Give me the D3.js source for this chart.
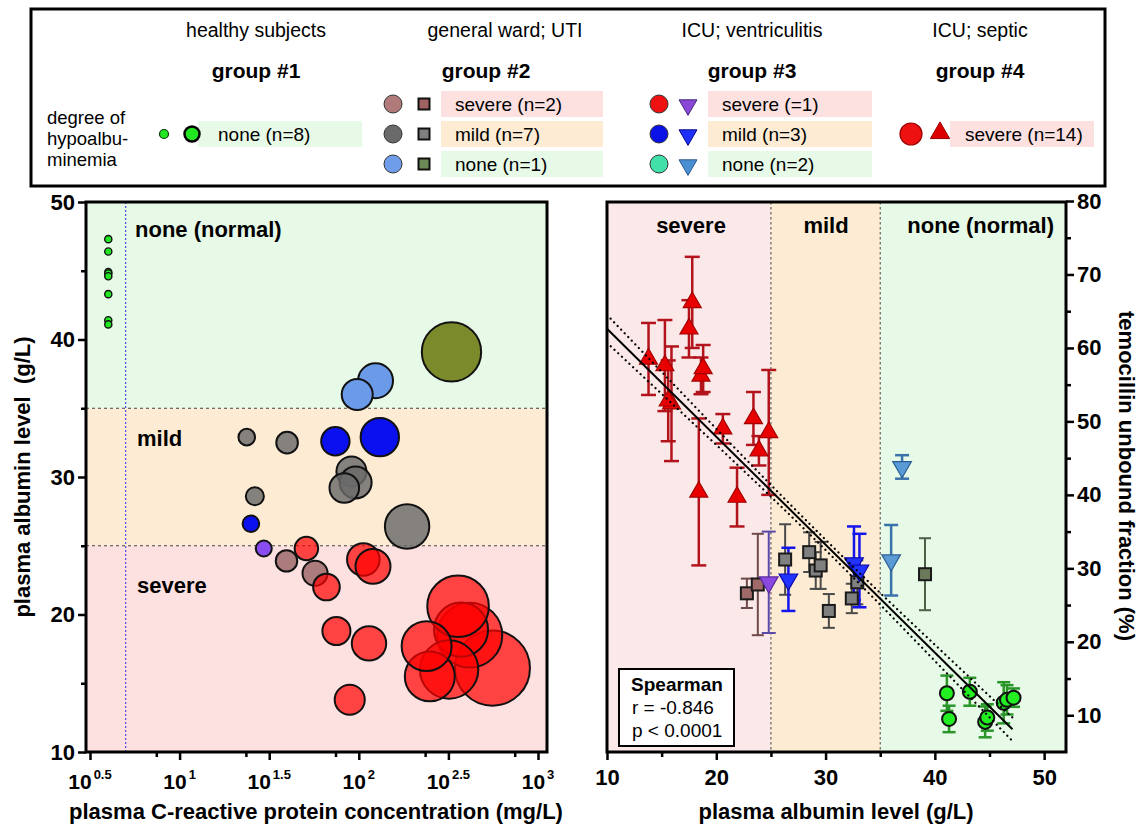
<!DOCTYPE html>
<html><head><meta charset="utf-8">
<script src="https://cdn.jsdelivr.net/npm/d3@7"></script>
<style>body{margin:0;background:#fff} text{font-family:"Liberation Sans",Arial,Helvetica,sans-serif}</style>
</head><body><svg id="c" width="1140" height="826"></svg>
<script>
// ---------------- DATA ----------------
// Left panel: plasma CRP (mg/L) vs albumin (g/L); bubble size = arbitrary size value
const healthyCRP = [4, 4, 4, 4, 4, 4, 4, 4];
const healthyAlb = [47.3, 46.4, 44.9, 44.8, 44.6, 43.3, 41.4, 41.1];
const healthySize = [0.8, 0.8, 0.8, 0.8, 0.8, 0.8, 0.8, 0.8];

const g2NoneCRP = [329];
const g2NoneAlb = [39.1];
const g2NoneSize = [55];

const g3NoneCRP = [124, 98];
const g3NoneAlb = [37.0, 36.0];
const g3NoneSize = [19.1, 15.0];

const g2MildCRP = [23.7, 39.8, 91, 96, 83, 26.3, 186];
const g2MildAlb = [32.9, 32.5, 30.4, 29.6, 29.2, 28.6, 26.4];
const g2MildSize = [4.3, 7.3, 14.1, 16.0, 13.7, 5.1, 30.8];

const g3MildCRP = [74, 131, 25];
const g3MildAlb = [32.6, 32.9, 26.6];
const g3MildSize = [12.6, 23.0, 4.3];

const g2SevereCRP = [39.5, 57];
const g2SevereAlb = [23.9, 23.0];
const g2SevereSize = [7.2, 9.8];

const g3SevereCRP = [29.5];
const g3SevereAlb = [24.8];
const g3SevereSize = [4.0];

const g4CRP = [557, 416, 372, 358, 319, 249, 239, 51, 106, 120, 66, 75, 114, 89];
const g4Alb = [16.1, 18.5, 18.9, 20.6, 16.0, 15.5, 17.7, 24.8, 24.0, 23.5, 22.0, 18.8, 17.9, 13.8];
const g4Size = [87.9, 66.0, 45.6, 59.3, 53.3, 39.0, 39.0, 8.6, 16.6, 19.1, 11.1, 12.3, 18.5, 14.1];

// Right panel: albumin (g/L) vs temocillin unbound fraction (%), mean and SD
const g4Alb2 = [13.8, 15.3, 15.9, 15.6, 17.5, 17.8, 18.4, 18.6, 18.8, 20.6, 21.9, 23.4, 23.9, 24.8];
const g4Fu = [58.5, 57.6, 52.4, 52.8, 62.6, 66.2, 40.4, 56.2, 57.2, 49.0, 39.7, 50.4, 46.0, 48.5];
const g4Sd = [4.9, 6.2, 7.8, 5.5, 3.9, 6.2, 10.0, 2.5, 3.2, 2.0, 4.0, 3.6, 2.0, 8.5];

const g2SevereAlb2 = [22.8, 23.8];
const g2SevereFu = [26.6, 27.8];
const g2SevereSd = [2.0, 6.9];

const g2MildAlb2 = [26.3, 28.5, 29.1, 29.55, 30.3, 32.4, 32.9];
const g2MildFu = [31.2, 32.2, 29.7, 30.4, 24.2, 25.9, 28.1];
const g2MildSd = [4.8, 2.7, 2.5, 3.2, 2.3, 2.0, 3.0];

const g2NoneAlb2 = [39.1];
const g2NoneFu = [29.2];
const g2NoneSd = [4.9];

const g3SevereAlb2 = [24.8];
const g3SevereFu = [28.1];
const g3SevereSd = [6.9];

const g3MildAlb2 = [26.6, 32.6, 33.1];
const g3MildFu = [28.5, 30.7, 29.7];
const g3MildSd = [4.3, 5.0, 5.0];

const g3NoneAlb2 = [36.0, 37.0];
const g3NoneFu = [31.1, 43.8];
const g3NoneSd = [4.8, 1.6];

const g1Alb2 = [41.1, 41.3, 43.2, 44.6, 44.8, 46.3, 46.6, 47.2];
const g1Fu = [13.0, 9.5, 13.2, 9.1, 9.7, 11.7, 12.1, 12.4];
const g1Sd = [2.4, 1.8, 1.9, 2.1, 1.8, 2.8, 2.0, 1.25];

// regression line and 95% confidence band
const fitX = [10, 47.1];
const fitY = [62.6, 8.1];
const bandX = [10, 15, 20, 25, 30, 35, 40, 47.1];
const bandUpper = [64.5, 56.75, 49.0, 41.35, 33.9, 26.65, 19.6, 9.7];
const bandLower = [60.7, 53.75, 46.8, 39.75, 32.5, 25.05, 17.4, 6.5];

const spearmanText = ["Spearman", "r = -0.846", "p < 0.0001"];

// axes ticks
const crpMajorExp = [0.5, 1, 1.5, 2, 2.5, 3];
const crpMinorExp = [0.87, 1.37, 1.87, 2.37, 2.87];
const albMajor = [10, 20, 30, 40, 50];
const albMinor = [15, 25, 35, 45];
const fuMajor = [10, 20, 30, 40, 50, 60, 70, 80];
const fuMinor = [15, 25, 35, 45, 55, 65, 75];
const albThresholds = [25, 35];
const crpThreshold = 5;

// legend
const legendHeads = ["healthy subjects", "general ward; UTI", "ICU; ventriculitis", "ICU; septic"];
const legendGroups = ["group #1", "group #2", "group #3", "group #4"];
const legendG1 = ["none (n=8)"];
const legendG2 = ["severe (n=2)", "mild (n=7)", "none (n=1)"];
const legendG3 = ["severe (=1)", "mild (n=3)", "none (n=2)"];
const legendG4 = ["severe (n=14)"];
const legendSide = ["degree of", "hypoalbu-", "minemia"];

// ---------------- DRAW ----------------
const svg = d3.select("#c");
const C = {pink:"#fde0e0", pinkR:"#fbe8e8", orange:"#fdebd3", green:"#e7f9e7",
  red:"#ff0000", grey:"#6a6a6a", blue:"#0a10ee", lblue:"#6b9be8", olive:"#7b8a2b",
  rosy:"#9e6a6a", purple:"#8a4cf0", hgreen:"#22e622"};
const FT = 22; // title / tick font size

// ===== Legend =====
const lg = svg.append("g");
lg.append("rect").attr("x",31).attr("y",9).attr("width",1074).attr("height",177)
  .attr("fill","#fff").attr("stroke","#000").attr("stroke-width",3);
const headX = [256, 505, 752, 980];
legendHeads.forEach((t,i)=>{
  lg.append("text").attr("x",headX[i]).attr("y",37).attr("text-anchor","middle")
    .attr("font-size",19.5).text(t);
  lg.append("text").attr("x",i==1?486:headX[i]).attr("y",78).attr("text-anchor","middle")
    .attr("font-size",21).attr("font-weight","bold").text(legendGroups[i]);
});
legendSide.forEach((t,i)=>lg.append("text").attr("x",47).attr("y",124+i*21).attr("font-size",18.5).text(t));
function labelBox(x0,x1,cy,fill,text,tx){
  lg.append("rect").attr("x",x0).attr("y",cy-13).attr("width",x1-x0).attr("height",26).attr("fill",fill);
  lg.append("text").attr("x",tx).attr("y",cy+7).attr("font-size",19).text(text);
}
const rowY = [104, 134, 164];
const rowFill = [C.pink, C.orange, C.green];
// group1
labelBox(198,362,134,C.green,legendG1[0],218);
lg.append("circle").attr("cx",164).attr("cy",134).attr("r",4.5).attr("fill",C.hgreen).attr("stroke","#0a3a0a").attr("stroke-width",1.2);
lg.append("circle").attr("cx",192).attr("cy",134).attr("r",7.5).attr("fill",C.hgreen).attr("stroke","#000").attr("stroke-width",2.5);
// group2
const g2c = ["#b07a7a","#6a6a6a","#6f9de9"], g2s = ["#a06464","#808080","#6a8a58"];
legendG2.forEach((t,i)=>{
  labelBox(441,603,rowY[i],rowFill[i],t,455);
  lg.append("circle").attr("cx",393).attr("cy",rowY[i]).attr("r",9).attr("fill",g2c[i]).attr("stroke","#333").attr("stroke-width",1);
  lg.append("rect").attr("x",424-5.5).attr("y",rowY[i]-5.5).attr("width",11).attr("height",11).attr("fill",g2s[i]).attr("stroke","#111").attr("stroke-width",2);
});
// group3
const g3c = ["#ee1111","#0a12e8","#40e0a8"], g3t = ["#8a48d8","#1c30f8","#4a8ed4"], g3ts=["#4a2a7a","#0a0a8a","#2a5a8a"];
const triUp = d3.symbol().type(d3.symbolTriangle);
legendG3.forEach((t,i)=>{
  labelBox(708,872,rowY[i],rowFill[i],t,722);
  lg.append("circle").attr("cx",659).attr("cy",rowY[i]).attr("r",9).attr("fill",g3c[i]).attr("stroke","#333").attr("stroke-width",1);
  lg.append("path").attr("d",triUp.size(140)()).attr("transform",`translate(688,${rowY[i]+1}) rotate(180)`)
    .attr("fill",g3t[i]).attr("stroke",g3ts[i]).attr("stroke-width",1);
});
// group4
labelBox(950,1094,134,C.pink,legendG4[0],965);
lg.append("circle").attr("cx",911).attr("cy",134).attr("r",11).attr("fill","#ee1111").attr("stroke","#900").attr("stroke-width",1.2);
lg.append("path").attr("d",triUp.size(160)()).attr("transform","translate(940,133)").attr("fill","#dd0000").attr("stroke","#900").attr("stroke-width",1);

// ===== Left panel =====
const Lf = {x0:86, x1:547, y0:202, y1:752};
const xL = d3.scaleLog().domain([Math.pow(10,0.5), 1000]).range([90, 538]);
const yL = d3.scaleLinear().domain([10,50]).range([752,202]);
const lp = svg.append("g");
[[50,35,C.green],[35,25,C.orange],[25,10,C.pink]].forEach(b=>{
  lp.append("rect").attr("x",Lf.x0).attr("width",Lf.x1-Lf.x0).attr("y",yL(b[0])).attr("height",yL(b[1])-yL(b[0])).attr("fill",b[2]);
});
albThresholds.forEach(v=>lp.append("line").attr("x1",Lf.x0).attr("x2",Lf.x1).attr("y1",yL(v)).attr("y2",yL(v))
  .attr("stroke","#444").attr("stroke-width",1).attr("stroke-dasharray","3,3"));
lp.append("line").attr("x1",xL(crpThreshold)).attr("x2",xL(crpThreshold)).attr("y1",Lf.y0).attr("y2",Lf.y1)
  .attr("stroke","#4a4af0").attr("stroke-width",1.2).attr("stroke-dasharray","2,2");
lp.append("text").attr("x",135).attr("y",237).attr("font-size",FT).attr("font-weight","bold").text("none (normal)");
lp.append("text").attr("x",137).attr("y",446).attr("font-size",FT).attr("font-weight","bold").text("mild");
lp.append("text").attr("x",137).attr("y",593).attr("font-size",FT).attr("font-weight","bold").text("severe");

const rScale = d3.scaleSqrt().domain([0,100]).range([0,40]);
const bubbleSets = [
  {crp:g2NoneCRP, alb:g2NoneAlb, size:g2NoneSize, fill:C.olive, op:1},
  {crp:g3NoneCRP, alb:g3NoneAlb, size:g3NoneSize, fill:C.lblue, op:1},
  {crp:g2MildCRP, alb:g2MildAlb, size:g2MildSize, fill:C.grey, op:0.82},
  {crp:g3MildCRP, alb:g3MildAlb, size:g3MildSize, fill:C.blue, op:1},
  {crp:g2SevereCRP, alb:g2SevereAlb, size:g2SevereSize, fill:C.rosy, op:0.85},
  {crp:g3SevereCRP, alb:g3SevereAlb, size:g3SevereSize, fill:C.purple, op:1},
  {crp:g4CRP, alb:g4Alb, size:g4Size, fill:C.red, op:0.7},
  {crp:healthyCRP, alb:healthyAlb, size:healthySize, fill:C.hgreen, op:1}
];
bubbleSets.forEach(s=>{
  const pts = s.crp.map((c,i)=>({c, a:s.alb[i], z:s.size[i]}));
  lp.append("g").selectAll("circle").data(pts).join("circle")
    .attr("cx",d=>xL(d.c)).attr("cy",d=>yL(d.a)).attr("r",d=>rScale(d.z))
    .attr("fill",s.fill).attr("fill-opacity",s.op).attr("stroke","#111")
    .attr("stroke-width",d=>rScale(d.z)<5?1.4:2);
});
lp.append("rect").attr("x",Lf.x0).attr("y",Lf.y0).attr("width",Lf.x1-Lf.x0).attr("height",Lf.y1-Lf.y0)
  .attr("fill","none").attr("stroke","#000").attr("stroke-width",3);

function styleAxis(g){ g.select(".domain").remove(); g.selectAll(".tick line").attr("stroke","#000").attr("stroke-width",2.5);
  g.selectAll(".tick text").attr("font-size",FT).attr("font-weight","bold").attr("fill","#000")
   .attr("font-family","'Liberation Sans',Arial,sans-serif"); }
// left y axis
lp.append("g").attr("transform",`translate(${Lf.x0},0)`).call(d3.axisLeft(yL).tickValues(albMajor).tickSize(8).tickPadding(3)).call(styleAxis);
lp.append("g").attr("transform",`translate(${Lf.x0},0)`).call(d3.axisLeft(yL).tickValues(albMinor).tickSize(5).tickFormat("")).call(styleAxis);
// left x axis
lp.append("g").attr("transform",`translate(0,${Lf.y1})`)
  .call(d3.axisBottom(xL).tickValues(crpMajorExp.map(e=>Math.pow(10,e))).tickSize(8).tickFormat("")).call(styleAxis);
lp.append("g").attr("transform",`translate(0,${Lf.y1})`)
  .call(d3.axisBottom(xL).tickValues(crpMinorExp.map(e=>Math.pow(10,e))).tickSize(5).tickFormat("")).call(styleAxis);
crpMajorExp.forEach(e=>{
  const t = lp.append("text").attr("x",xL(Math.pow(10,e))).attr("y",789).attr("text-anchor","middle")
    .attr("font-size",21).attr("font-weight","bold");
  t.append("tspan").text("10");
  t.append("tspan").attr("font-size",13).attr("dy",-10).attr("dx",2).text(String(e));
});
lp.append("text").attr("x",316).attr("y",819).attr("text-anchor","middle").attr("font-size",FT).attr("font-weight","bold")
  .text("plasma C-reactive protein concentration (mg/L)");
lp.append("text").attr("transform","translate(30,477) rotate(-90)").attr("text-anchor","middle").attr("font-size",FT)
  .attr("font-weight","bold").attr("xml:space","preserve").text("plasma albumin level  (g/L)");

// ===== Right panel =====
const Rf = {x0:607, x1:1066, y0:202, y1:752};
const xR = d3.scaleLinear().domain([10,52]).range([607,1066]);
const yR = d3.scaleLinear().domain([5,80]).range([752,201]);
const rp = svg.append("g");
[[10,25,C.pinkR],[25,35,C.orange],[35,52,C.green]].forEach(b=>{
  rp.append("rect").attr("x",xR(b[0])).attr("width",xR(b[1])-xR(b[0])).attr("y",Rf.y0).attr("height",Rf.y1-Rf.y0).attr("fill",b[2]);
});
albThresholds.forEach(v=>rp.append("line").attr("x1",xR(v)).attr("x2",xR(v)).attr("y1",Rf.y0).attr("y2",Rf.y1)
  .attr("stroke","#444").attr("stroke-width",1).attr("stroke-dasharray","2.5,2.5"));
rp.append("text").attr("x",691).attr("y",233).attr("text-anchor","middle").attr("font-size",FT).attr("font-weight","bold").text("severe");
rp.append("text").attr("x",826).attr("y",233).attr("text-anchor","middle").attr("font-size",FT).attr("font-weight","bold").text("mild");
rp.append("text").attr("x",1054).attr("y",233).attr("text-anchor","end").attr("font-size",FT).attr("font-weight","bold").text("none (normal)");

function errBars(xs, ys, sds, color, cap, sw){
  const g = rp.append("g").attr("stroke",color).attr("stroke-width",sw);
  xs.forEach((x,i)=>{
    const cx = xR(x), t = yR(ys[i]+sds[i]), b = yR(ys[i]-sds[i]);
    g.append("line").attr("x1",cx).attr("x2",cx).attr("y1",t).attr("y2",b);
    g.append("line").attr("x1",cx-cap/2).attr("x2",cx+cap/2).attr("y1",t).attr("y2",t);
    g.append("line").attr("x1",cx-cap/2).attr("x2",cx+cap/2).attr("y1",b).attr("y2",b);
  });
}
function triangles(xs, ys, fill, stroke, down, size){
  rp.append("g").selectAll("path").data(xs.map((x,i)=>[x,ys[i]])).join("path")
    .attr("d",d3.symbol().type(d3.symbolTriangle).size(size)())
    .attr("transform",d=>`translate(${xR(d[0])},${yR(d[1])})${down?" rotate(180)":""}`)
    .attr("fill",fill).attr("stroke",stroke).attr("stroke-width",1.2);
}
function squares(xs, ys, fill){
  rp.append("g").selectAll("rect").data(xs.map((x,i)=>[x,ys[i]])).join("rect")
    .attr("x",d=>xR(d[0])-6).attr("y",d=>yR(d[1])-6).attr("width",12).attr("height",12)
    .attr("fill",fill).attr("stroke","#1a1a1a").attr("stroke-width",2);
}
errBars(g4Alb2, g4Fu, g4Sd, "#b3141c", 15, 2.5);
errBars(g2SevereAlb2, g2SevereFu, g2SevereSd, "#6e4a4a", 12, 2);
errBars(g2MildAlb2, g2MildFu, g2MildSd, "#4a4a4a", 12, 2);
errBars(g2NoneAlb2, g2NoneFu, g2NoneSd, "#4f5f45", 12, 2);
errBars(g3SevereAlb2, g3SevereFu, g3SevereSd, "#5a4aa8", 14, 2);
errBars(g3MildAlb2, g3MildFu, g3MildSd, "#1414ee", 14, 2.5);
errBars(g3NoneAlb2, g3NoneFu, g3NoneSd, "#3a72aa", 14, 2.5);
errBars(g1Alb2, g1Fu, g1Sd, "#2a962a", 13, 2.5);
triangles(g4Alb2, g4Fu, "#e80000", "#a40000", false, 140);
squares(g2SevereAlb2, g2SevereFu, "#a06a6a");
squares(g2MildAlb2, g2MildFu, "#808080");
squares(g2NoneAlb2, g2NoneFu, "#6a7a5a");
triangles(g3SevereAlb2, g3SevereFu, "#8a4ae0", "#5a2aa0", true, 150);
triangles(g3MildAlb2, g3MildFu, "#2233ff", "#0a0ab0", true, 150);
triangles(g3NoneAlb2, g3NoneFu, "#5a9ad5", "#2a5f95", true, 150);
rp.append("g").selectAll("circle").data(g1Alb2.map((x,i)=>[x,g1Fu[i]])).join("circle")
  .attr("cx",d=>xR(d[0])).attr("cy",d=>yR(d[1])).attr("r",7).attr("fill","#22ee22").attr("stroke","#111").attr("stroke-width",2);

// regression + CI
const bandLine = d3.line().curve(d3.curveMonotoneX);
[bandUpper, bandLower].forEach(arr=>{
  rp.append("path").attr("d",bandLine(bandX.map((x,i)=>[xR(x),yR(arr[i])]))).attr("fill","none")
    .attr("stroke","#000").attr("stroke-width",2.2).attr("stroke-linecap","round").attr("stroke-dasharray","0.1,5");
});
rp.append("line").attr("x1",xR(fitX[0])).attr("y1",yR(fitY[0])).attr("x2",xR(fitX[1])).attr("y2",yR(fitY[1]))
  .attr("stroke","#000").attr("stroke-width",2);

// Spearman box
rp.append("rect").attr("x",619).attr("y",669).attr("width",115).attr("height",77).attr("fill","#fff").attr("stroke","#000").attr("stroke-width",2);
rp.append("text").attr("x",677).attr("y",691).attr("text-anchor","middle").attr("font-size",19).attr("font-weight","bold").text(spearmanText[0]);
rp.append("text").attr("x",632).attr("y",714).attr("font-size",19).text(spearmanText[1]);
rp.append("text").attr("x",632).attr("y",737).attr("font-size",19).text(spearmanText[2]);

rp.append("rect").attr("x",Rf.x0).attr("y",Rf.y0).attr("width",Rf.x1-Rf.x0).attr("height",Rf.y1-Rf.y0)
  .attr("fill","none").attr("stroke","#000").attr("stroke-width",3);
rp.append("g").attr("transform",`translate(0,${Rf.y1})`).call(d3.axisBottom(xR).tickValues(albMajor).tickSize(8).tickPadding(9)).call(styleAxis);
rp.append("g").attr("transform",`translate(0,${Rf.y1})`).call(d3.axisBottom(xR).tickValues(albMinor).tickSize(5).tickFormat("")).call(styleAxis);
rp.append("g").attr("transform",`translate(${Rf.x1},0)`).call(d3.axisRight(yR).tickValues(fuMajor).tickSize(8).tickPadding(3)).call(styleAxis);
rp.append("g").attr("transform",`translate(${Rf.x1},0)`).call(d3.axisRight(yR).tickValues(fuMinor).tickSize(5).tickFormat("")).call(styleAxis);
rp.append("text").attr("x",836).attr("y",819).attr("text-anchor","middle").attr("font-size",FT).attr("font-weight","bold")
  .text("plasma albumin level (g/L)");
rp.append("text").attr("transform","translate(1119,476) rotate(90)").attr("text-anchor","middle").attr("font-size",FT)
  .attr("font-weight","bold").text("temocillin unbound fraction (%)");
</script></body></html>
